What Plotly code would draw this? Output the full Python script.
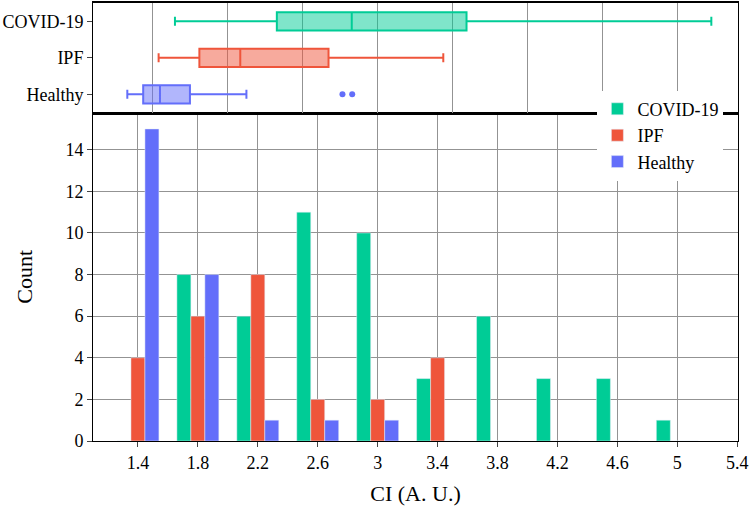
import plotly.graph_objects as go

# Histogram bin centres (bin width 0.4)
bin_centers = [1.4, 1.8, 2.2, 2.6, 3.0, 3.4, 3.8, 4.2, 4.6, 5.0]
covid_counts = [0, 8, 6, 11, 10, 3, 6, 3, 3, 1]
ipf_counts = [4, 6, 8, 2, 2, 4, 0, 0, 0, 0]
healthy_counts = [15, 8, 1, 1, 1, 0, 0, 0, 0, 0]

groups = ["COVID-19", "IPF", "Healthy"]
colors = ["#00cc96", "#EF553B", "#636efa"]

# Box statistics (lower fence, q1, median, q3, upper fence)
box_lower = [1.647, 1.538, 1.329]
box_q1 = [2.327, 1.810, 1.435]
box_median = [2.827, 2.083, 1.547]
box_q3 = [3.593, 2.672, 1.747]
box_upper = [5.227, 3.438, 2.124]

healthy_outliers = [2.765, 2.83]

FONT = "Liberation Serif, Times New Roman, serif"
GRID = "#939393"

fig = go.Figure()
for name, col, cnt in zip(groups, colors, [covid_counts, ipf_counts, healthy_counts]):
    fig.add_trace(go.Bar(x=bin_centers, y=cnt, name=name, marker_color=col,
                         xaxis="x", yaxis="y"))

for i, (name, col) in enumerate(zip(groups, colors)):
    fig.add_trace(go.Box(y=[name], q1=[box_q1[i]], median=[box_median[i]], q3=[box_q3[i]],
                         lowerfence=[box_lower[i]], upperfence=[box_upper[i]],
                         orientation="h", name=name, marker_color=col,
                         line=dict(color=col, width=2), width=0.5,
                         showlegend=False, xaxis="x2", yaxis="y2"))

fig.add_trace(go.Scatter(x=healthy_outliers, y=["Healthy"] * len(healthy_outliers),
                         mode="markers", marker=dict(color=colors[2], size=6),
                         showlegend=False, xaxis="x2", yaxis="y2"))

axis_common = dict(showline=True, linecolor="black", linewidth=1, mirror=True,
                   ticks="outside", ticklen=5, tickcolor="#444")

fig.update_layout(
    width=750, height=511,
    margin=dict(l=93, r=11, t=1, b=70),
    paper_bgcolor="white", plot_bgcolor="white",
    font=dict(family=FONT, size=18, color="black"),
    barmode="group", bargap=0.3,
    xaxis=dict(domain=[0, 1], anchor="y", range=[1.1, 5.405], tick0=1.4, dtick=0.4,
               showgrid=True, gridcolor=GRID, zeroline=False,
               title=dict(text="CI (A. U.)", font=dict(size=22), standoff=14),
               **axis_common),
    yaxis=dict(domain=[0, 0.75], anchor="x", range=[0, 15.79], dtick=2,
               showgrid=True, gridcolor=GRID, zeroline=False,
               title=dict(text="Count", font=dict(size=22), standoff=26),
               **axis_common),
    xaxis2=dict(domain=[0, 1], anchor="y2", matches="x", showticklabels=False,
                showgrid=True, gridcolor=GRID, zeroline=False,
                showline=True, linecolor="black", linewidth=1.5, mirror=True, ticks=""),
    yaxis2=dict(domain=[0.75, 1], anchor="x2", type="category",
                categoryorder="array", categoryarray=["Healthy", "IPF", "COVID-19"],
                range=[-0.5, 2.5], showgrid=False, zeroline=False,
                **axis_common),
    legend=dict(x=0.782, y=0.80, xanchor="left", yanchor="top",
                bgcolor="white", font=dict(size=18), tracegroupgap=0),
)

fig.write_html("out.html", config={"displayModeBar": False},
               post_script="document.body.style.margin='0';document.body.style.padding='0';")
